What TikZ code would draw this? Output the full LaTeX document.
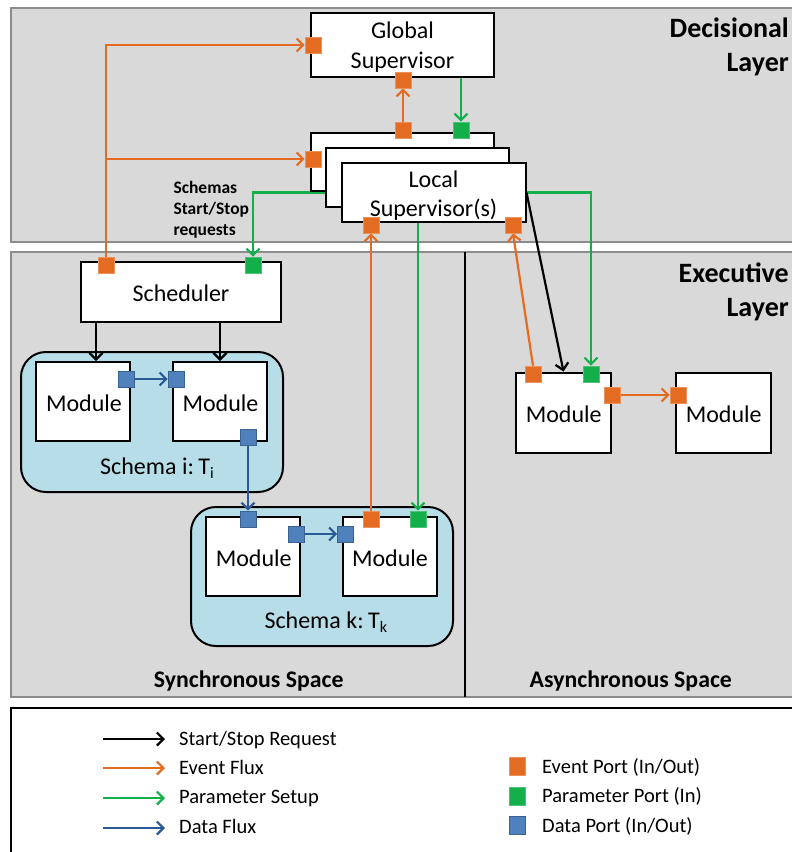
\documentclass[tikz,border=0pt]{standalone}
\usepackage{fontspec}
\setmainfont{Carlito}
\usetikzlibrary{arrows.meta}
\pgfdeclarelayer{bg}
\pgfdeclarelayer{mid}
\pgfsetlayers{bg,mid,main}
\definecolor{bggray}{HTML}{D9D9D9}
\definecolor{bgline}{HTML}{8C8C8C}
\definecolor{evt}{HTML}{E46C22}
\definecolor{par}{HTML}{12AF4B}
\definecolor{datp}{HTML}{4F81BD}
\definecolor{datl}{HTML}{2A5A96}
\definecolor{schemafill}{HTML}{B7DEE8}
\newcommand{\subsc}[1]{\raisebox{-4pt}{\fontsize{16}{16}\selectfont #1}}
\begin{document}
\begin{tikzpicture}[x=1pt,y=-1pt,
  panel/.style={fill=bggray,draw=bgline,line width=1.2pt},
  box/.style={draw=black,fill=white,line width=2pt,inner sep=0pt},
  modbox/.style={box,minimum width=94pt,minimum height=79pt},
  schemabox/.style={draw=black,fill=schemafill,line width=2pt,rounded corners=25pt,inner sep=0pt},
  portsq/.style={minimum size=16pt,inner sep=0pt,line width=0.6pt},
  eport/.style={portsq,fill=evt,draw=evt!75!white},
  pport/.style={portsq,fill=par,draw=par!75!white},
  dport/.style={portsq,fill=datp,draw=datp!75!black},
  conn/.style={line width=2.2pt,-{Straight Barb[length=6.5pt,width=13pt]}},
  blk/.style={conn,draw=black},
  ev/.style={conn,draw=evt},
  pa/.style={conn,draw=par},
  da/.style={conn,draw=datl},
  txt/.style={font=\fontsize{24}{28}\selectfont,inner sep=0pt,anchor=base},
  lbl/.style={font=\fontsize{28}{32}\selectfont\bfseries,inner sep=0pt,anchor=base east},
  spc/.style={font=\fontsize{23.8}{27}\selectfont\bfseries,inner sep=0pt,anchor=base},
  sml/.style={font=\fontsize{17.5}{21}\selectfont\bfseries,inner sep=0pt,anchor=base west},
  legtxt/.style={font=\fontsize{20.5}{24}\selectfont,inner sep=0pt,anchor=base west}
]
\useasboundingbox (0,0) rectangle (792,852);

\begin{pgfonlayer}{bg}
  \draw[panel] (11,8) rectangle (800,242);
  \draw[panel] (11,252) rectangle (800,697);
  \draw[line width=2pt] (465,252) -- (465,697);
  \node[schemabox,minimum width=262pt,minimum height=140pt] (schi) at (152,422) {};
  \node[schemabox,minimum width=262pt,minimum height=139pt] (schk) at (322,576.5) {};
  \draw[line width=2pt,fill=white] (11,708) rectangle (800,860);
\end{pgfonlayer}

% layer labels
\node[lbl] at (789,37) {Decisional};
\node[lbl] at (789,71) {Layer};
\node[lbl] at (789,282) {Executive};
\node[lbl] at (789,316) {Layer};
\node[spc] at (248.7,687) {Synchronous Space};
\node[spc] at (630.8,687) {Asynchronous Space};

% boxes
\node[box,minimum width=183pt,minimum height=64pt] (gs) at (402.5,45) {};
\node[txt] at (402.5,38) {Global};
\node[txt] at (402.5,68) {Supervisor};

\node[box,minimum width=183pt,minimum height=58pt] (lsback) at (402.5,162) {};
\node[box,minimum width=183pt,minimum height=59pt] (lsmid) at (417.5,177.5) {};
\node[box,minimum width=184pt,minimum height=59.5pt] (lsfront) at (433.5,192.5) {};
\node[txt] at (433.5,187) {Local};
\node[txt] at (433.5,216) {Supervisor(s)};

\node[box,minimum width=200pt,minimum height=60pt] (sched) at (181,292) {};
\node[txt] at (181,301) {Scheduler};

\node[modbox] (mi1) at (83,401.5) {};
\node[modbox] (mi2) at (220,401.5) {};
\node[txt] at (84,411) {Module};
\node[txt] at (220.5,411) {Module};
\node[txt] at (157,474) {Schema i:\kern-1pt\ T\subsc{i}};

\node[modbox] (mk1) at (253,556.5) {};
\node[modbox] (mk2) at (389.5,556.5) {};
\node[txt] at (253.7,566) {Module};
\node[txt] at (390,566) {Module};
\node[txt] at (325.8,628) {Schema k:\kern-1pt\ T\subsc{k}};

\node[box,minimum width=95pt,minimum height=80pt] (ma) at (563.5,412.5) {};
\node[box,minimum width=95pt,minimum height=80pt] (mb) at (723,412.5) {};
\node[txt] at (563.7,422) {Module};
\node[txt] at (723.7,422) {Module};

\node[sml] at (173.3,193) {Schemas};
\node[sml] at (173.3,214) {Start/Stop};
\node[sml] at (173.3,235) {requests};

% ports
\node[eport] (gsL) at (313,45) {};
\node[eport] (gsB) at (403,80) {};
\node[eport] (lsT1) at (403,130) {};
\node[pport] (lsT2) at (461,130) {};
\node[eport] (lsL) at (313,159) {};
\node[eport] (lsB1) at (371,225) {};
\node[eport] (lsB2) at (513,225) {};
\node[eport] (schO) at (106,265) {};
\node[pport] (schG) at (253,265) {};
\node[dport] (mi1R) at (126,379) {};
\node[dport] (mi2L) at (176,379) {};
\node[dport] (mi2B) at (248,437) {};
\node[dport] (mk1T) at (248,519) {};
\node[dport] (mk1R) at (296,534) {};
\node[dport] (mk2L) at (345.5,534) {};
\node[eport] (mk2O) at (371,519) {};
\node[pport] (mk2G) at (418,519) {};
\node[eport] (maO) at (533,374) {};
\node[pport] (maG) at (591,374) {};
\node[eport] (maR) at (612.5,395) {};
\node[eport] (mbL) at (678,395) {};

\coordinate (s1) at (96,322);

% connectors
\begin{pgfonlayer}{mid}
  \draw[ev] (schO.north) |- (gsL.west);
  \draw[ev] (schO.north) |- (lsL.west);
  \draw[ev] (lsT1.north) -- (gsB.south);
  \draw[pa] (gs.south -| lsT2) -- (lsT2.north);
  \draw[pa] (lsfront.west) -| (schG.north);
  \draw[pa] (lsfront.east) -| (maG.north);
  \draw[pa] (lsfront.south -| mk2G) -- (mk2G.north);
  \draw[blk] (lsfront.east) -- (ma.north);
  \draw[ev] (maO.north) -- (lsB2.south);
  \draw[ev] (mk2O.north) -- (lsB1.south);
  \draw[blk] (s1) -- (s1 |- mi1.north);
  \draw[blk] (sched.south -| mi2) -- (mi2.north);
  \draw[da] (mi1R.east) -- (mi2L.west);
  \draw[da] (mi2B.south) -- (mk1T.north);
  \draw[da] (mk1R.east) -- (mk2L.west);
  \draw[ev] (maR.east) -- (mbL.west);
\end{pgfonlayer}

% legend
\coordinate (la1) at (103,739); \coordinate (lb1) at (165,739);
\coordinate (la2) at (103,768); \coordinate (lb2) at (165,768);
\coordinate (la3) at (103,798); \coordinate (lb3) at (165,798);
\coordinate (la4) at (103,828); \coordinate (lb4) at (165,828);
\draw[blk] (la1) -- (lb1);
\draw[ev] (la2) -- (lb2);
\draw[pa] (la3) -- (lb3);
\draw[da] (la4) -- (lb4);
\node[legtxt] at (179,745) {Start/Stop Request};
\node[legtxt] at (179,774) {Event Flux};
\node[legtxt] at (179,803) {Parameter Setup};
\node[legtxt] at (179,833) {Data Flux};
\node[eport,minimum height=18pt] (legE) at (517,766) {};
\node[pport,minimum height=18pt] (legP) at (517,796) {};
\node[dport,minimum height=18pt] (legD) at (517,825) {};
\node[legtxt] at (542,773) {Event Port (In/Out)};
\node[legtxt] at (542,802) {Parameter Port (In)};
\node[legtxt] at (542,832) {Data Port (In/Out)};
\end{tikzpicture}
\end{document}
